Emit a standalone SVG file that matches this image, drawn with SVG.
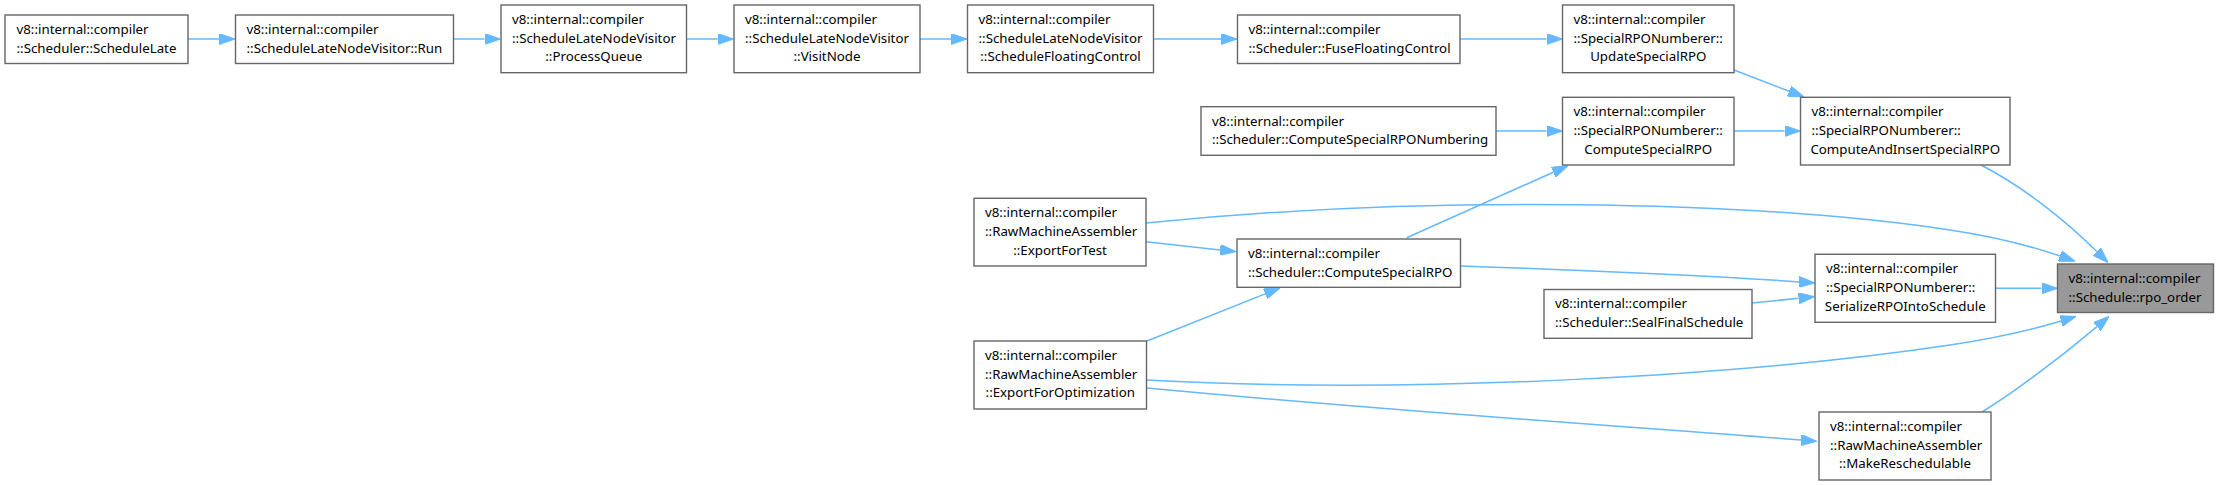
<svg xmlns="http://www.w3.org/2000/svg" width="2220" height="485" viewBox="0 0 2220 485">
<style>
.n rect{fill:#ffffff;stroke:#666666;stroke-width:1.4}
.n.h rect{fill:#999999}
.n text{font-family:"Noto Sans","DejaVu Sans",sans-serif;font-size:13.3px;fill:#000000}
.m{text-anchor:middle}
.e path{fill:none;stroke:#63b8ff;stroke-width:1.5;marker-end:url(#ah)}
</style>
<defs>
<marker id="ah" markerUnits="userSpaceOnUse" viewBox="0 0 16 11" refX="0" refY="5.5" markerWidth="16" markerHeight="11" orient="auto">
<path d="M0,0 L16,5.5 L0,11 Z" fill="#63b8ff" stroke="#63b8ff" stroke-width="1"/>
</marker>
</defs>
<rect width="2220" height="485" fill="#ffffff"/>
<g id="edges" class="e">
<path d="M188,39 H219"/>
<path d="M453.5,39 H484.5"/>
<path d="M686.5,39 H717.5"/>
<path d="M920,39 H951"/>
<path d="M1153.5,39 H1221"/>
<path d="M1460,39 H1546.5"/>
<path d="M1734,70 L1789.1,91.2"/>
<path d="M1496,131 H1546.5"/>
<path d="M1734,131 H1784.5"/>
<path d="M1981,165 C2020,185 2062,217 2096.8,251.5"/>
<path d="M1146,223 C1420,195 1750,200 1950,230 C1990,236 2025,244 2060,256"/>
<path d="M1146,241.7 L1220.1,249.9"/>
<path d="M1406.7,237.7 L1553.4,172.2"/>
<path d="M1461,266 C1580,270 1700,275 1799,281.9"/>
<path d="M1752,303 L1798.6,298.3"/>
<path d="M1996,288.3 H2041.5"/>
<path d="M1147,341 L1265.1,293.9"/>
<path d="M1147,380 C1420,395 1750,375 1950,345 C1990,339 2028,331 2061,321"/>
<path d="M1147,388 C1400,412 1650,428 1801,440"/>
<path d="M1982,412 C2010,395 2055,362 2097,326.6"/>
</g>
<g id="n1" class="n"><rect x="5" y="15" width="183" height="48.5"/><text x="16.5" y="33.8">v8::internal::compiler</text><text x="16.5" y="52.6">::Scheduler::ScheduleLate</text></g>
<g id="n2" class="n"><rect x="235.5" y="15" width="218" height="48.5"/><text x="246.5" y="33.8">v8::internal::compiler</text><text x="246.5" y="52.6">::ScheduleLateNodeVisitor::Run</text></g>
<g id="n3" class="n"><rect x="501" y="5" width="185.5" height="67.7"/><text x="512" y="23.8">v8::internal::compiler</text><text x="512" y="42.6">::ScheduleLateNodeVisitor</text><text class="m" x="593.75" y="61.4">::ProcessQueue</text></g>
<g id="n4" class="n"><rect x="734" y="5" width="186" height="67.7"/><text x="745" y="23.8">v8::internal::compiler</text><text x="745" y="42.6">::ScheduleLateNodeVisitor</text><text class="m" x="827" y="61.4">::VisitNode</text></g>
<g id="n5" class="n"><rect x="967.5" y="5" width="186" height="67.7"/><text x="978.5" y="23.8">v8::internal::compiler</text><text x="978.5" y="42.6">::ScheduleLateNodeVisitor</text><text class="m" x="1060.5" y="61.4">::ScheduleFloatingControl</text></g>
<g id="n6" class="n"><rect x="1237.5" y="15" width="222.5" height="48.5"/><text x="1248.5" y="33.8">v8::internal::compiler</text><text x="1248.5" y="52.6">::Scheduler::FuseFloatingControl</text></g>
<g id="n7" class="n"><rect x="1562.5" y="5" width="171.5" height="67.7"/><text x="1573.5" y="23.8">v8::internal::compiler</text><text x="1573.5" y="42.6">::SpecialRPONumberer::</text><text class="m" x="1648.25" y="61.4">UpdateSpecialRPO</text></g>
<g id="n8" class="n"><rect x="1201" y="106.7" width="295" height="48.6"/><text x="1212" y="125.5">v8::internal::compiler</text><text x="1212" y="144.3">::Scheduler::ComputeSpecialRPONumbering</text></g>
<g id="n9" class="n"><rect x="1562.5" y="97.3" width="171.5" height="67.7"/><text x="1573.5" y="116.1">v8::internal::compiler</text><text x="1573.5" y="134.9">::SpecialRPONumberer::</text><text class="m" x="1648.25" y="153.7">ComputeSpecialRPO</text></g>
<g id="n10" class="n"><rect x="1800.5" y="97.3" width="209.5" height="67.7"/><text x="1811.5" y="116.1">v8::internal::compiler</text><text x="1811.5" y="134.9">::SpecialRPONumberer::</text><text class="m" x="1905.25" y="153.7">ComputeAndInsertSpecialRPO</text></g>
<g id="n11" class="n"><rect x="974" y="198.3" width="172" height="67.7"/><text x="985" y="217.1">v8::internal::compiler</text><text x="985" y="235.9">::RawMachineAssembler</text><text class="m" x="1060" y="254.7">::ExportForTest</text></g>
<g id="n12" class="n"><rect x="1237" y="239" width="223.5" height="48.3"/><text x="1248" y="257.8">v8::internal::compiler</text><text x="1248" y="276.6">::Scheduler::ComputeSpecialRPO</text></g>
<g id="n13" class="n"><rect x="1815" y="254.3" width="180.5" height="68"/><text x="1826" y="273.1">v8::internal::compiler</text><text x="1826" y="291.9">::SpecialRPONumberer::</text><text class="m" x="1905.25" y="310.7">SerializeRPOIntoSchedule</text></g>
<g id="n14" class="n"><rect x="1544" y="289.5" width="208" height="48.8"/><text x="1555" y="308.3">v8::internal::compiler</text><text x="1555" y="327.1">::Scheduler::SealFinalSchedule</text></g>
<g id="n15" class="n"><rect x="974" y="341" width="172.5" height="68"/><text x="985" y="359.8">v8::internal::compiler</text><text x="985" y="378.6">::RawMachineAssembler</text><text class="m" x="1060.25" y="397.4">::ExportForOptimization</text></g>
<g id="n16" class="n"><rect x="1819" y="412" width="172" height="68"/><text x="1830" y="430.8">v8::internal::compiler</text><text x="1830" y="449.6">::RawMachineAssembler</text><text class="m" x="1905" y="468.4">::MakeReschedulable</text></g>
<g id="n17" class="n h"><rect x="2057.5" y="264" width="156" height="48.5"/><text x="2068.5" y="282.8">v8::internal::compiler</text><text x="2068.5" y="301.6">::Schedule::rpo_order</text></g>
</svg>
